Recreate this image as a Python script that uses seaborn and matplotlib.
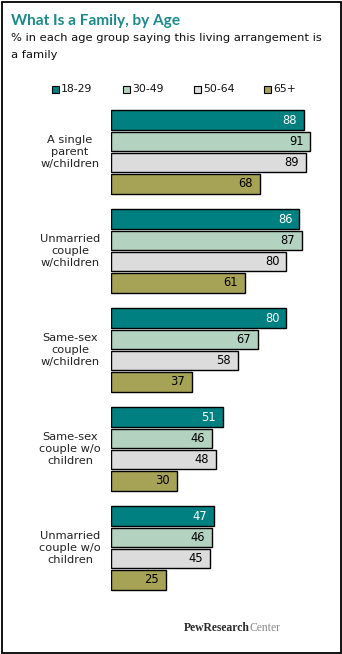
import matplotlib
matplotlib.use("Agg")
import matplotlib.pyplot as plt
from matplotlib.patches import Rectangle
import pandas as pd
import seaborn as sns

categories = [
    "A single\nparent\nw/children",
    "Unmarried\ncouple\nw/children",
    "Same-sex\ncouple\nw/children",
    "Same-sex\ncouple w/o\nchildren",
    "Unmarried\ncouple w/o\nchildren",
]
age_groups = ["18-29", "30-49", "50-64", "65+"]
values_18_29 = [88, 86, 80, 51, 47]
values_30_49 = [91, 87, 67, 46, 46]
values_50_64 = [89, 80, 58, 48, 45]
values_65_plus = [68, 61, 37, 30, 25]
colors = ["#008080", "#b4d2c0", "#dcdcdc", "#a6a356"]
label_colors = ["white", "black", "black", "black"]

series = [values_18_29, values_30_49, values_50_64, values_65_plus]
rows = []
for age, vals in zip(age_groups, series):
    for cat, v in zip(categories, vals):
        rows.append({"arrangement": cat, "age": age, "pct": v})
df = pd.DataFrame(rows)

sns.set_theme(style="white")
plt.rcParams["font.family"] = ["DejaVu Sans"]

W, H = 342, 654
fig = plt.figure(figsize=(W / 100, H / 100), dpi=100)
fig.patch.set_facecolor("white")
renderer = fig.canvas.get_renderer()


def fit_width(txt, target_px):
    """Scale a text's font size so its rendered width equals target_px."""
    w = txt.get_window_extent(renderer).width
    txt.set_fontsize(txt.get_fontsize() * target_px / w)
    return txt


# axes placed in pixel terms
ax_left, ax_right = 111, 330
ax_top, ax_bottom = 102.5, 597.5
ax = fig.add_axes([ax_left / W, 1 - ax_bottom / H,
                   (ax_right - ax_left) / W, (ax_bottom - ax_top) / H])

sns.barplot(data=df, y="arrangement", x="pct", hue="age", orient="h",
            order=categories, hue_order=age_groups, palette=colors,
            width=0.86, gap=0.08, edgecolor="black", linewidth=1.0,
            legend=False, ax=ax, saturation=1)

ax.set_xlim(0, 100)
ax.set_ylim(4.5, -0.5)
ax.set_xlabel("")
ax.set_ylabel("")
ax.set_xticks([])
ax.set_yticks([])
for s in ax.spines.values():
    s.set_visible(False)

# value labels at the inner right end of each bar
for container, tc in zip(ax.containers, label_colors):
    ax.bar_label(container, padding=-5, color=tc, fontsize=8.3,
                 label_type="edge", fmt="%d")
for t in ax.texts:
    t.set_ha("right")

# category labels
for i, cat in enumerate(categories):
    ax.text(-0.187, i, cat, transform=ax.get_yaxis_transform(),
            ha="center", va="center", fontsize=8.2, color="#222222",
            linespacing=1.25)

# title and subtitle
title = fig.text(11 / W, 1 - 25 / H, "What Is a Family, by Age", fontsize=12,
                 fontweight="bold", color="#1a8a8a", ha="left", va="baseline",
                 family="Lato")
fit_width(title, 168)
sub1 = fig.text(11 / W, 1 - 38 / H,
                "% in each age group saying this living arrangement is",
                fontsize=8, color="#111111", ha="left", va="center")
fit_width(sub1, 312)
fig.text(11 / W, 1 - 54.5 / H, "a family", fontsize=sub1.get_fontsize(),
         color="#111111", ha="left", va="center")

# legend
leg_x = [52, 123, 194, 264]
leg_y = 89
for x, lab, c in zip(leg_x, age_groups, colors):
    fig.patches.append(Rectangle(((x - 0.5) / W, 1 - (leg_y + 4) / H), 7 / W, 7 / H,
                                 transform=fig.transFigure, facecolor=c,
                                 edgecolor="black", linewidth=0.8))
    fig.text((x + 9) / W, 1 - leg_y / H, lab, fontsize=7.8, color="#111111",
             ha="left", va="center")

# footer logotype
center = fig.text(280 / W, 1 - 628 / H, "Center", fontsize=8.4, color="#8a8a8a",
                  family="Liberation Serif", ha="right", va="center")
cx0 = center.get_window_extent(renderer).x0
fig.text((cx0 + 0.5) / W, 1 - 628 / H, "PewResearch", fontsize=8.4,
         color="#2a2a2a", family="Liberation Serif", fontweight="bold",
         ha="right", va="center")

# outer frame
fig.patches.append(Rectangle((1.5 / W, 1.5 / H), (W - 3) / W, (H - 3) / H,
                             transform=fig.transFigure, fill=False,
                             edgecolor="black", linewidth=1.3))

fig.savefig("out.png", dpi=100)
